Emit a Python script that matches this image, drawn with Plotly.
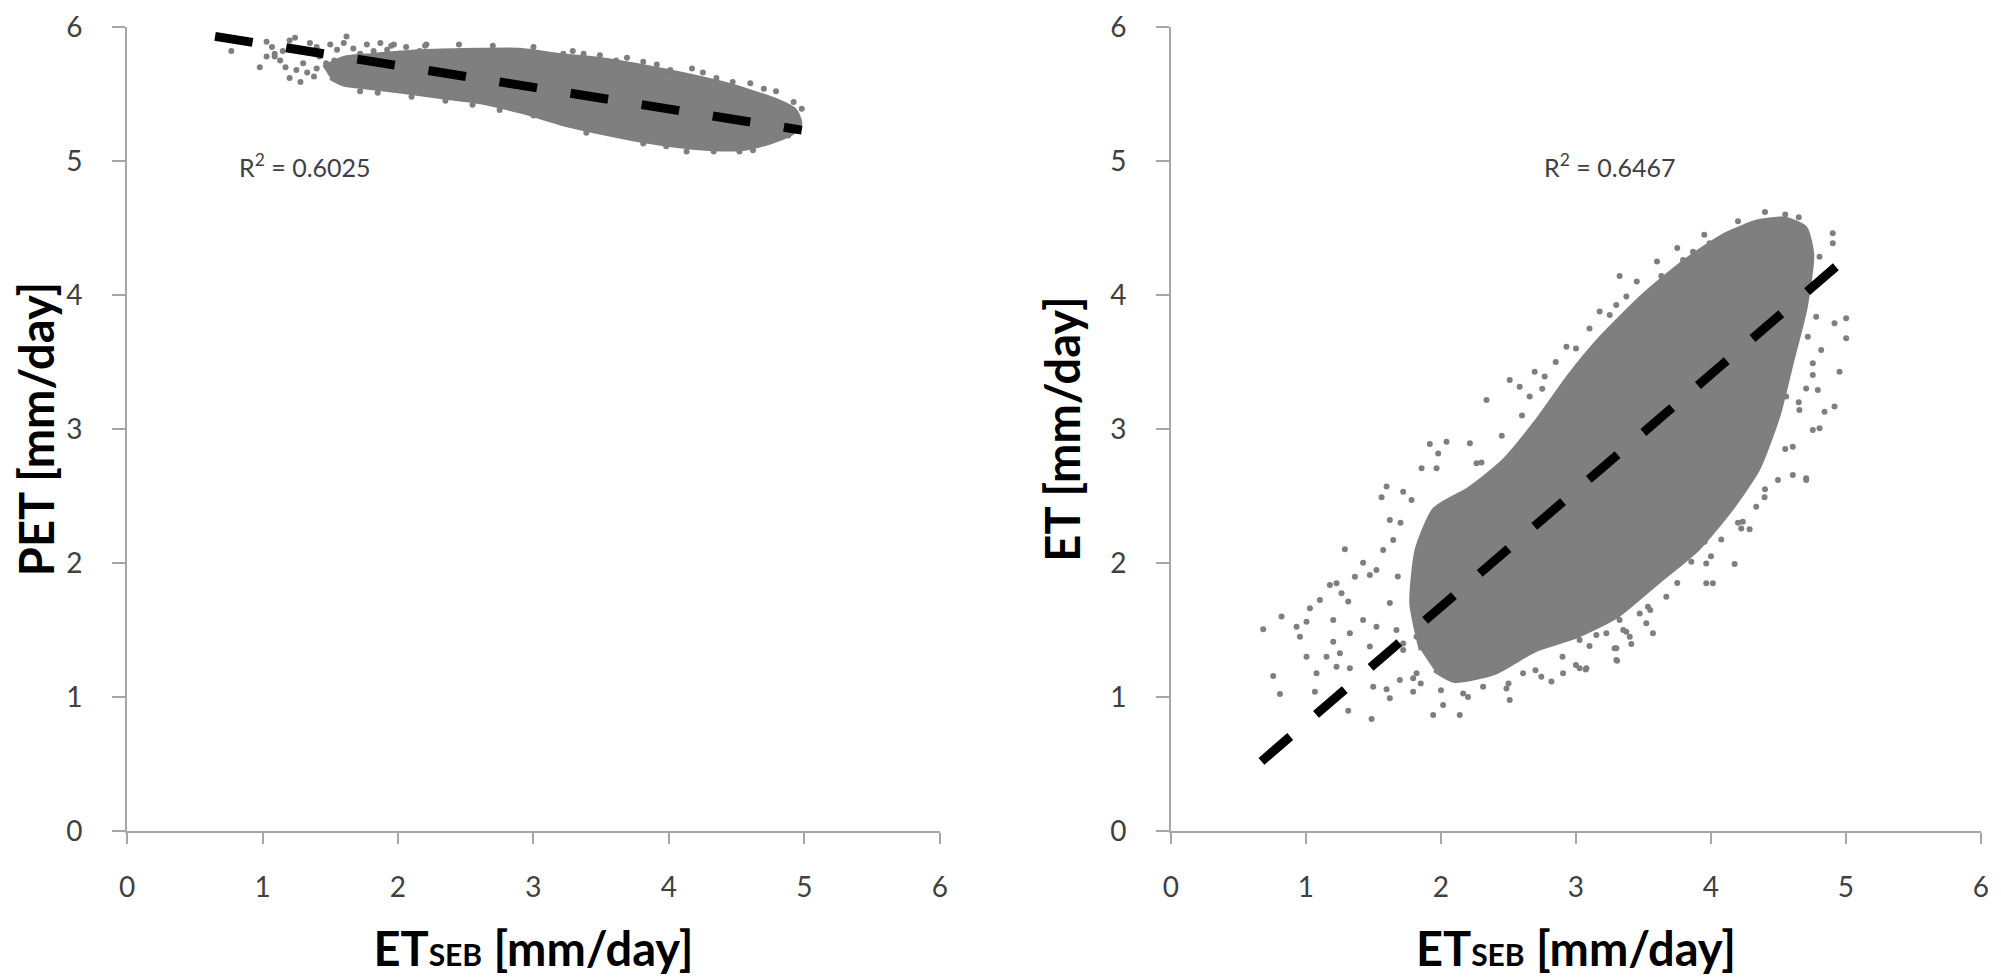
import plotly.graph_objects as go
from plotly.subplots import make_subplots

# ---- data (mm/day) ----
# left panel: ETSEB vs PET
pet_trend_x = [0.65, 4.98]
pet_trend_y = [5.93, 5.23]
pet_r2 = "R<sup>2</sup> = 0.6025"

# dense part of the PET cloud (outline)
pet_core_x = [1.45, 1.6, 1.8, 2.2, 2.6, 2.9, 3.2, 3.5, 3.8, 4.1, 4.4, 4.6, 4.8, 4.93, 4.97,
              4.9, 4.75, 4.55, 4.3, 4.0, 3.8, 3.5, 3.2, 2.9, 2.6, 2.3, 2.0, 1.75, 1.6, 1.5]
pet_core_y = [5.70, 5.77, 5.79, 5.82, 5.83, 5.83, 5.79, 5.76, 5.71, 5.65, 5.58, 5.52, 5.45, 5.38,
              5.28, 5.20, 5.14, 5.09, 5.09, 5.12, 5.15, 5.21, 5.28, 5.37, 5.44, 5.48, 5.52, 5.55,
              5.57, 5.62]

# loose points of the PET cloud
pet_pts_x = [0.77, 0.98, 1.03, 1.07, 1.09, 1.13, 1.17, 1.20, 1.25, 1.28, 1.30, 1.33, 1.38, 1.40,
             1.20, 1.09, 1.50, 1.55, 1.62, 1.60, 1.67, 1.72, 1.77, 1.82, 1.87, 1.92, 1.97, 2.01,
             2.06, 2.21, 2.16, 1.72, 1.42, 1.47, 1.51, 1.15, 1.24, 1.35, 1.40, 1.03, 1.53,
             3.00, 3.22, 3.29, 3.37, 3.49, 3.61, 3.69, 3.81, 3.91, 4.01, 4.17, 4.25, 4.35, 4.47,
             4.60, 4.70, 4.79, 4.92, 4.98, 4.87, 4.92, 4.89, 4.88, 4.77,
             3.39, 3.25, 3.00, 2.90, 3.81, 3.98, 4.13, 4.33, 4.52, 4.62, 3.49,
             1.85, 2.10, 2.35, 2.55, 2.75, 1.95, 2.20, 2.45, 2.70]
pet_pts_y = [5.82, 5.70, 5.89, 5.85, 5.80, 5.75, 5.70, 5.62, 5.68, 5.59, 5.73, 5.66, 5.63, 5.69,
             5.90, 5.78, 5.87, 5.83, 5.93, 5.88, 5.84, 5.80, 5.87, 5.82, 5.88, 5.83, 5.87, 5.80,
             5.85, 5.87, 5.82, 5.52, 5.78, 5.73, 5.68, 5.82, 5.92, 5.88, 5.85, 5.78, 5.75,
             5.85, 5.80, 5.82, 5.80, 5.79, 5.75, 5.77, 5.74, 5.72, 5.68, 5.69, 5.66, 5.62, 5.59,
             5.58, 5.54, 5.52, 5.44, 5.39, 5.34, 5.31, 5.26, 5.19, 5.20,
             5.21, 5.28, 5.34, 5.40, 5.13, 5.11, 5.07, 5.07, 5.07, 5.08, 5.23,
             5.51, 5.48, 5.45, 5.42, 5.38, 5.86, 5.86, 5.87, 5.86]

# right panel: ETSEB vs ET
et_trend_x = [0.67, 4.97]
et_trend_y = [0.52, 4.25]
et_r2 = "R<sup>2</sup> = 0.6467"

et_core_x = [1.95, 2.1, 2.4, 2.7, 3.0, 3.3, 3.6, 3.9, 4.15, 4.35, 4.5, 4.6, 4.7, 4.75, 4.7,
             4.55, 4.35, 4.1, 3.8, 3.5, 3.2, 2.95, 2.7, 2.45, 2.2, 1.95, 1.82, 1.78, 1.85]
et_core_y = [1.20, 1.12, 1.18, 1.35, 1.45, 1.60, 1.85, 2.10, 2.40, 2.70, 3.10, 3.50, 3.90, 4.30,
             4.50, 4.57, 4.55, 4.45, 4.25, 4.00, 3.70, 3.40, 3.05, 2.75, 2.55, 2.40, 2.10, 1.70,
             1.35]

et_pts_x = [0.683, 0.819, 0.757, 0.807, 1.004, 1.066, 1.078, 1.029, 1.103, 1.177, 1.226, 1.288,
            1.423, 1.473, 1.362, 1.263, 1.313, 1.202, 1.152, 1.226, 1.325, 1.202, 1.313, 1.486,
            1.498, 1.597, 1.621, 1.695, 1.794, 1.794, 1.942, 2.139, 2.016, 2.164, 2.312, 2.485,
            2.509, 2.608, 2.743, 2.818, 3.027, 3.077, 3.299, 3.299, 3.398, 1.597, 1.560, 1.720,
            1.782, 1.856, 1.917, 1.979, 2.041, 1.967, 2.214, 2.263, 1.621, 1.646, 1.572, 1.522,
            1.621, 1.670, 1.522, 1.423, 1.325, 1.473, 1.720, 1.819, 1.917, 2.016, 1.819, 1.004,
            0.955, 0.930, 1.251,
            3.323, 3.632, 3.743, 3.793, 3.867, 3.990, 4.098, 2.337, 2.509, 2.583, 2.694, 2.768,
            2.929, 2.657, 3.175, 3.298, 3.373, 3.434, 4.902, 4.902, 4.804, 5.001, 4.915, 5.001,
            4.952, 4.915, 4.841, 4.791, 4.754, 4.705, 4.754, 4.804, 4.606, 4.705, 4.606, 4.655,
            4.557, 4.754, 4.717, 4.779, 4.816,
            2.904, 2.999, 3.072, 3.286, 3.304, 3.410, 3.570, 3.373, 3.472, 3.533, 3.521, 3.669,
            3.965, 4.014, 4.175, 3.965, 4.076, 3.953, 4.224, 4.286, 4.236, 4.335, 4.397, 4.496,
            4.705, 3.854, 3.225, 3.151, 3.027, 3.126, 3.323, 3.200,
            2.30, 2.45, 2.60, 2.75, 2.85, 3.00, 3.10, 3.25, 3.45, 3.60, 3.75, 3.95, 4.20, 4.40,
            4.55, 4.65, 2.50, 2.70, 2.90, 3.10, 3.35, 3.55, 3.75, 4.00, 4.20, 4.40, 4.55, 4.65,
            1.70, 1.68, 1.72, 1.85, 2.00, 2.20]
et_pts_y = [1.505, 1.600, 1.157, 1.022, 1.300, 1.040, 1.177, 1.662, 1.724, 1.836, 1.848, 2.102,
            2.002, 1.910, 1.898, 1.774, 1.712, 1.575, 1.300, 1.226, 1.214, 1.413, 0.898, 0.836,
            1.077, 1.057, 0.990, 1.127, 1.139, 1.040, 0.866, 0.866, 0.940, 1.027, 1.077, 1.064,
            0.978, 1.177, 1.152, 1.115, 1.214, 1.214, 1.276, 1.363, 1.450, 2.570, 2.490, 2.532,
            2.470, 2.707, 2.888, 2.818, 2.905, 2.707, 2.893, 2.744, 2.321, 2.172, 2.097, 1.948,
            1.701, 1.500, 1.525, 1.575, 1.475, 1.376, 1.351, 1.450, 1.326, 1.251, 1.177, 1.562,
            1.450, 1.525, 1.326,
            4.142, 4.142, 4.142, 4.261, 4.323, 4.386, 4.423, 3.216, 3.366, 3.316, 3.428, 3.391,
            3.614, 3.242, 3.876, 3.925, 3.988, 3.900, 4.460, 4.386, 4.286, 3.826, 3.789, 3.677,
            3.428, 3.167, 3.129, 3.291, 3.403, 3.303, 2.993, 3.005, 2.868, 2.632, 2.657, 3.142,
            3.242, 3.490, 3.689, 3.838, 3.590,
            1.177, 1.239, 1.206, 1.363, 1.271, 1.395, 1.475, 1.487, 1.624, 1.674, 1.550, 1.749,
            1.848, 1.848, 1.992, 1.997, 2.176, 2.159, 2.258, 2.251, 2.308, 2.420, 2.490, 2.619,
            2.619, 2.010, 1.475, 1.462, 1.425, 1.550, 1.575, 1.637,
            2.75, 2.95, 3.10, 3.30, 3.50, 3.60, 3.75, 3.85, 4.10, 4.25, 4.35, 4.45, 4.55, 4.62,
            4.60, 4.58, 1.10, 1.20, 1.30, 1.38, 1.50, 1.65, 1.85, 2.05, 2.30, 2.55, 2.85, 3.20,
            2.30, 1.90, 1.40, 1.10, 1.05, 1.00]

tick_vals = [0, 1, 2, 3, 4, 5, 6]

GREY = "#7f7f7f"
AXIS = "#a6a6a6"
TXT = "#404040"
FONT = "Lato"

fig = make_subplots(rows=1, cols=2)

panels = [
    (1, pet_core_x, pet_core_y, pet_pts_x, pet_pts_y, pet_trend_x, pet_trend_y),
    (2, et_core_x, et_core_y, et_pts_x, et_pts_y, et_trend_x, et_trend_y),
]
for col, cx, cy, px, py, tx, ty in panels:
    fig.add_trace(go.Scatter(x=cx, y=cy, fill="toself", fillcolor=GREY, mode="lines",
                             line=dict(color=GREY, width=4, shape="spline", smoothing=0.6),
                             hoverinfo="skip"), row=1, col=col)
    fig.add_trace(go.Scatter(x=px, y=py, mode="markers",
                             marker=dict(color=GREY, size=6)), row=1, col=col)
    fig.add_trace(go.Scatter(x=tx, y=ty, mode="lines",
                             line=dict(color="black", width=9, dash="38px,34px")), row=1, col=col)

xtitle = "ET<span style='font-size:30px'>SEB</span> [mm/day]"
for col, ytitle in [(1, "PET [mm/day]"), (2, "ET [mm/day]")]:
    fig.update_xaxes(range=[0, 6], tickvals=tick_vals, showgrid=False, zeroline=False,
                     showline=True, linecolor=AXIS, linewidth=2, ticks="outside",
                     ticklen=11, tickwidth=2, tickcolor=AXIS, ticklabelstandoff=19,
                     automargin=False,
                     tickfont=dict(family=FONT, size=28, color=TXT),
                     title=dict(text=xtitle, standoff=32,
                                font=dict(family=FONT, size=47, color="black", weight=700)),
                     row=1, col=col)
    fig.update_yaxes(range=[0, 6], tickvals=tick_vals, showgrid=False, zeroline=False,
                     showline=True, linecolor=AXIS, linewidth=2, ticks="outside",
                     ticklen=13, tickwidth=2, tickcolor=AXIS, ticklabelstandoff=24,
                     automargin=False,
                     tickfont=dict(family=FONT, size=28, color=TXT),
                     title=dict(text=ytitle, standoff=15,
                                font=dict(family=FONT, size=47, color="black", weight=700)),
                     row=1, col=col)

# the page adds an 8px body margin, so the figure is 8px smaller and shifted back
fig.update_layout(
    width=1993, height=971,
    margin=dict(l=119, r=20, t=19, b=148),
    plot_bgcolor="white", paper_bgcolor="white",
    showlegend=False,
    xaxis=dict(domain=[0, 0.4385]),
    xaxis2=dict(domain=[0.5631, 1]),
)

fig.add_annotation(x=1.31, y=4.97, xref="x", yref="y", text=pet_r2, showarrow=False,
                   font=dict(family=FONT, size=25, color=TXT))
fig.add_annotation(x=3.25, y=4.97, xref="x2", yref="y2", text=et_r2, showarrow=False,
                   font=dict(family=FONT, size=25, color=TXT))

fig.write_html("out.html")
